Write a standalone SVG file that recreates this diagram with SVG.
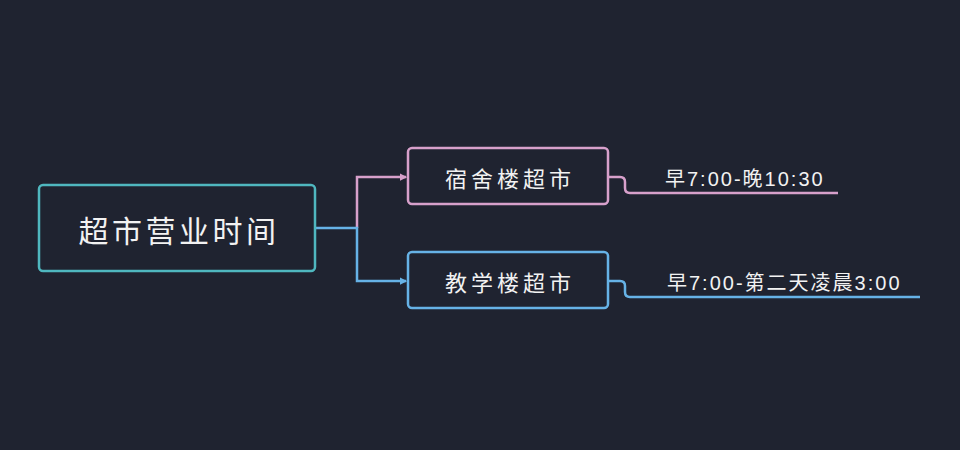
<svg xmlns="http://www.w3.org/2000/svg" width="960" height="450" viewBox="0 0 960 450">
<style>
text{font-family:"Liberation Sans","Noto Sans CJK SC",sans-serif;fill:#f2f2f2;}
.box{fill:#1f2330;stroke-width:2.5;}
.c{fill:none;stroke-width:2.5;}
.pink{stroke:#d7a0cb;}
.blue{stroke:#66b2e6;}
.teal{stroke:#4fb7bf;}
.rt{font-size:30px;letter-spacing:3.5px;}
.nt{font-size:22px;letter-spacing:4px;}
.lt{font-size:20px;letter-spacing:2px;}
</style>
<defs>
<marker id="ap" viewBox="0 0 6 6" refX="5" refY="3" markerWidth="3" markerHeight="3" orient="auto"><path d="M0,0 L6,3 L0,6 z" fill="#d7a0cb"/></marker>
<marker id="ab" viewBox="0 0 6 6" refX="5" refY="3" markerWidth="3" markerHeight="3" orient="auto"><path d="M0,0 L6,3 L0,6 z" fill="#66b2e6"/></marker>
</defs>
<rect width="960" height="450" fill="#1f2330"/>
<g id="connectors">
<path class="c pink" d="M357,228 V177 H406" marker-end="url(#ap)"/>
<path class="c blue" d="M315,228 H357 V281 H406" marker-end="url(#ab)"/>
<path class="c pink" d="M608,177 H620 Q625,177 625,182 V188 Q625,193 630,193 H838"/>
<path class="c blue" d="M608,281 H620 Q625,281 625,286 V292 Q625,297 630,297 H920"/>
</g>
<g id="root">
<rect class="box teal" x="39" y="185" width="276" height="86" rx="4"/>
<text class="rt" x="179" y="242" text-anchor="middle">超市营业时间</text>
</g>
<g id="dorm">
<rect class="box pink" x="408" y="148" width="200" height="56" rx="4"/>
<text class="nt" x="510" y="187" text-anchor="middle">宿舍楼超市</text>
</g>
<g id="teach">
<rect class="box blue" x="408" y="252" width="200" height="56" rx="4"/>
<text class="nt" x="510" y="291" text-anchor="middle">教学楼超市</text>
</g>
<g id="dorm-time">
<text class="lt" x="665" y="186">早7:00-晚10:30</text>
</g>
<g id="teach-time">
<text class="lt" x="667" y="290">早7:00-第二天凌晨3:00</text>
</g>
</svg>
